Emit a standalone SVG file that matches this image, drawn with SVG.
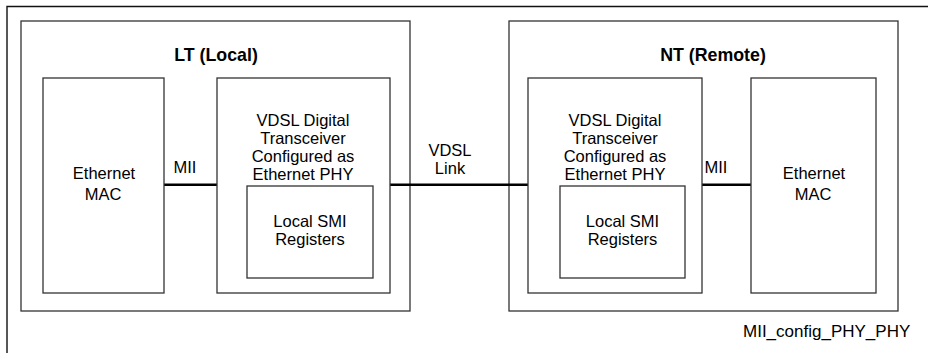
<svg xmlns="http://www.w3.org/2000/svg" width="928" height="353" viewBox="0 0 928 353">
<style>
.box{fill:#fff;stroke:#333;stroke-width:1.3}
.frame{fill:none;stroke:#111;stroke-width:1.4}
.link{fill:none;stroke:#000;stroke-width:2.6}
text{font-family:"Liberation Sans",Arial,sans-serif;font-size:16.5px;fill:#000;text-anchor:middle}
.title{font-weight:bold;font-size:17.8px}
.cap{text-anchor:start;font-size:17px}
</style>
<rect width="928" height="353" fill="#fff"/>
<path class="frame" d="M7,353 V6.5 H928"/>
<g id="LT">
<rect class="box" x="21" y="21" width="389" height="290"/>
<text class="title" x="216" y="61">LT (Local)</text>
</g>
<g id="NT">
<rect class="box" x="509" y="21" width="389" height="290"/>
<text class="title" x="713" y="61">NT (Remote)</text>
</g>
<g id="connectors">
<line class="link" x1="164" y1="184.7" x2="217" y2="184.7"/>
<line class="link" x1="390" y1="184.7" x2="528" y2="184.7"/>
<line class="link" x1="702" y1="184.7" x2="751" y2="184.7"/>
<text x="185" y="173">MII</text>
<text x="450" y="156">VDSL</text>
<text x="450" y="174">Link</text>
<text x="716" y="173">MII</text>
</g>
<g id="lt_mac">
<rect class="box" x="43" y="78" width="121" height="215"/>
<text x="104" y="179">Ethernet</text>
<text x="103" y="200">MAC</text>
</g>
<g id="lt_phy">
<rect class="box" x="217" y="78" width="173" height="215"/>
<text x="303" y="126">VDSL Digital</text>
<text x="303" y="144">Transceiver</text>
<text x="303" y="162">Configured as</text>
<text x="303" y="180">Ethernet PHY</text>
</g>
<g id="lt_smi">
<rect class="box" x="247" y="186" width="126" height="92"/>
<text x="310" y="227">Local SMI</text>
<text x="310" y="245">Registers</text>
</g>
<g id="nt_phy">
<rect class="box" x="528" y="78" width="174" height="215"/>
<text x="615" y="126">VDSL Digital</text>
<text x="615" y="144">Transceiver</text>
<text x="615" y="162">Configured as</text>
<text x="615" y="180">Ethernet PHY</text>
</g>
<g id="nt_smi">
<rect class="box" x="560" y="186" width="125" height="92"/>
<text x="622.5" y="227">Local SMI</text>
<text x="622.5" y="245">Registers</text>
</g>
<g id="nt_mac">
<rect class="box" x="751" y="78" width="125" height="215"/>
<text x="814" y="179">Ethernet</text>
<text x="813" y="200">MAC</text>
</g>
<text class="cap" x="743" y="337">MII_config_PHY_PHY</text>
</svg>
